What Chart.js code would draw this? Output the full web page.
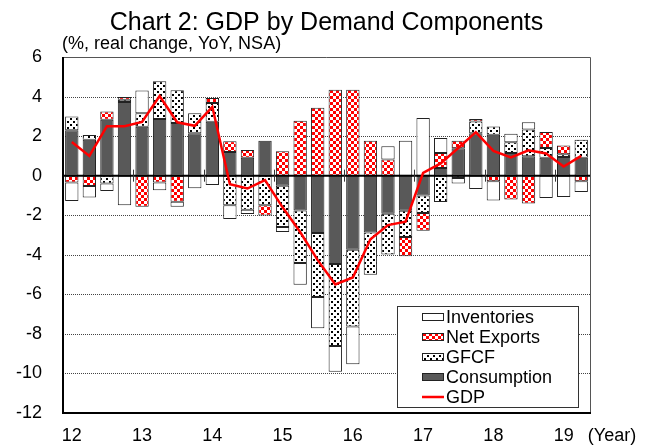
<!DOCTYPE html>
<html>
<head>
<meta charset="utf-8">
<script src="https://cdn.jsdelivr.net/npm/chart.js@4.4.1/dist/chart.umd.min.js"></script>
<style>
  html, body { margin: 0; padding: 0; background: #fff; }
  #wrap { width: 649px; height: 445px; }
</style>
</head>
<body>
<div id="wrap"><canvas id="gdpChart" width="649" height="445"></canvas></div>
<script>
// Quarterly contributions, % real change YoY (NSA)
const quarters = ['12Q1', '12Q2', '12Q3', '12Q4', '13Q1', '13Q2', '13Q3', '13Q4',
                  '14Q1', '14Q2', '14Q3', '14Q4', '15Q1', '15Q2', '15Q3', '15Q4',
                  '16Q1', '16Q2', '16Q3', '16Q4', '17Q1', '17Q2', '17Q3', '17Q4',
                  '18Q1', '18Q2', '18Q3', '18Q4', '19Q1', '19Q2'];
const yearLabels = ['12', '13', '14', '15', '16', '17', '18', '19'];

const consumption = [2.30, 1.81, 2.83, 3.72, 2.47, 2.86, 2.66, 2.15, 2.73, 1.20, 0.90, 1.76,
                     -0.51, -1.76, -2.90, -4.47, -3.75, -2.87, -1.93, -1.77, -1.00, 0.39, 1.39, 2.15,
                     2.07, 1.15, 0.98, 0.90, 0.95, 0.90];
const gfcf = [0.69, 0.24, -0.39, 0.12, 0.68, 1.91, 1.66, 1.00, 0.94, -1.50, -1.72, -1.50,
              -2.09, -2.66, -3.24, -4.14, -3.88, -2.14, -2.06, -1.33, -0.89, -1.33, -0.12, 0.59,
              0.42, 0.54, 1.35, 0.50, 0.13, 0.92];
const netExports = [-0.34, -0.52, 0.42, 0.14, -1.57, -0.34, -1.32, 0.00, 0.26, 0.54, 0.40, -0.51,
                    1.23, 2.78, 3.43, 4.35, 4.35, 1.77, 0.82, -0.98, -0.89, 0.76, 0.37, 0.12,
                    -0.28, -1.21, -1.41, 0.81, 0.45, -0.28];
const inventories = [-0.94, -0.58, -0.39, -1.49, 1.15, -0.40, -0.25, -0.64, -0.47, -0.69, -0.22, 0.00,
                     -0.25, -1.10, -1.57, -1.30, -1.91, 0.00, 0.67, 1.76, 2.92, 0.76, -0.28, -0.68,
                     -0.98, 0.43, 0.37, -1.13, -1.08, -0.55];
const gdp = [1.70, 1.00, 2.50, 2.50, 2.72, 4.03, 2.70, 2.52, 3.48, -0.43, -0.65, -0.22,
             -1.60, -2.85, -4.27, -5.50, -5.15, -3.22, -2.50, -2.33, 0.14, 0.62, 1.40, 2.20,
             1.25, 0.92, 1.28, 1.12, 0.46, 1.00];

const FONT = 'Arial, "Liberation Sans", sans-serif';
const GREY = '#595959';

function makePattern(size, draw) {
    const c = document.createElement('canvas');
    c.width = size;
    c.height = size;
    const g = c.getContext('2d');
    draw(g);
    return g.createPattern(c, 'repeat');
}

const checker = makePattern(6, (g) => {
    g.fillStyle = '#fff';
    g.fillRect(0, 0, 6, 6);
    g.fillStyle = '#ff0000';
    g.fillRect(0, 0, 3, 3);
    g.fillRect(3, 3, 3, 3);
});

const dots = makePattern(6, (g) => {
    g.fillStyle = '#fff';
    g.fillRect(0, 0, 6, 6);
    g.fillStyle = '#000';
    g.fillRect(1, 1, 2, 2);
    g.fillRect(4, 4, 2, 2);
});

const legendItems = [
    { text: 'Inventories', fill: '#fff' },
    { text: 'Net Exports', fill: checker },
    { text: 'GFCF', fill: dots },
    { text: 'Consumption', fill: GREY },
    { text: 'GDP', line: '#ff0000' }
];

const decor = {
    id: 'decor',
    beforeDatasetsDraw(chart) {
        const { ctx, chartArea: a, scales: { y } } = chart;
        ctx.save();
        ctx.strokeStyle = '#444';
        ctx.lineWidth = 1;
        ctx.setLineDash([1, 1]);
        y.ticks.forEach((t) => {
            if (t.value === 0 || t.value === y.min || t.value === y.max) return;
            const py = Math.round(y.getPixelForValue(t.value)) + 0.5;
            ctx.beginPath();
            ctx.moveTo(a.left, py);
            ctx.lineTo(a.right, py);
            ctx.stroke();
        });
        ctx.restore();
    },
    beforeDatasetDraw(chart, args) {
        if (args.index !== 4) return;
        const { ctx, chartArea: a, scales: { x, y } } = chart;
        const y0 = y.getPixelForValue(0);
        ctx.save();
        ctx.strokeStyle = '#000';
        ctx.lineWidth = 2;
        ctx.beginPath();
        ctx.moveTo(a.left, y0);
        ctx.lineTo(a.right, y0);
        ctx.stroke();
        ctx.lineWidth = 1;
        ctx.strokeStyle = '#333';
        for (let i = 4; i < quarters.length; i += 4) {
            const px = Math.round((x.getPixelForValue(i - 1) + x.getPixelForValue(i)) / 2) + 0.5;
            ctx.beginPath();
            ctx.moveTo(px, y0 - 6);
            ctx.lineTo(px, y0 + 6);
            ctx.stroke();
        }
        ctx.restore();
    },
    afterDraw(chart) {
        const { ctx, chartArea: a } = chart;
        ctx.save();

        // plot frame
        ctx.strokeStyle = '#555';
        ctx.lineWidth = 1;
        ctx.beginPath();
        ctx.moveTo(a.left, a.top + 0.5);
        ctx.lineTo(a.right + 0.5, a.top + 0.5);
        ctx.lineTo(a.right + 0.5, a.bottom);
        ctx.stroke();
        ctx.strokeStyle = '#000';
        ctx.lineWidth = 2;
        ctx.beginPath();
        ctx.moveTo(a.left, a.top);
        ctx.lineTo(a.left, a.bottom);
        ctx.lineTo(a.right + 1, a.bottom);
        ctx.stroke();

        // titles
        ctx.fillStyle = '#000';
        ctx.textBaseline = 'alphabetic';
        ctx.textAlign = 'center';
        ctx.font = '25px ' + FONT;
        ctx.fillText('Chart 2: GDP by Demand Components', 326.5, 30);
        ctx.textAlign = 'left';
        ctx.font = '18px ' + FONT;
        ctx.fillText('(%, real change, YoY, NSA)', 62, 49);
        ctx.textAlign = 'center';
        ctx.textBaseline = 'middle';
        ctx.fillText('(Year)', 612, 436);

        // legend box
        ctx.fillStyle = '#fff';
        ctx.fillRect(397.5, 306.5, 181, 101);
        ctx.strokeStyle = '#333';
        ctx.lineWidth = 1;
        ctx.strokeRect(397.5, 306.5, 181, 101);
        ctx.textAlign = 'left';
        ctx.font = '18px ' + FONT;
        legendItems.forEach((item, i) => {
            const cy = 317 + i * 20;
            if (item.line) {
                ctx.strokeStyle = item.line;
                ctx.lineWidth = 2.5;
                ctx.beginPath();
                ctx.moveTo(422, cy);
                ctx.lineTo(444, cy);
                ctx.stroke();
            } else {
                ctx.fillStyle = item.fill;
                ctx.fillRect(422.5, cy - 3.5, 21, 7);
                ctx.strokeStyle = '#222';
                ctx.lineWidth = 1;
                ctx.strokeRect(422.5, cy - 3.5, 21, 7);
            }
            ctx.fillStyle = '#000';
            ctx.fillText(item.text, 446, cy + 1);
        });
        ctx.restore();
    }
};

function barSet(label, data, fill) {
    return {
        type: 'bar',
        label: label,
        data: data,
        backgroundColor: fill,
        borderColor: '#222',
        borderWidth: 1,
        borderSkipped: false,
        stack: 'bars',
        order: 1,
        barPercentage: 0.76,
        categoryPercentage: 1.0
    };
}

new Chart(document.getElementById('gdpChart'), {
    data: {
        labels: quarters,
        datasets: [
            barSet('Consumption', consumption, GREY),
            barSet('GFCF', gfcf, dots),
            barSet('Net Exports', netExports, checker),
            barSet('Inventories', inventories, '#fff'),
            {
                type: 'line',
                label: 'GDP',
                data: gdp,
                borderColor: '#ff0000',
                borderWidth: 2.5,
                pointRadius: 0,
                tension: 0,
                fill: false,
                stack: 'gdp',
                order: 0
            }
        ]
    },
    options: {
        responsive: false,
        animation: false,
        layout: { padding: { left: 0, right: 59, top: 57, bottom: 0 } },
        plugins: {
            legend: { display: false },
            title: { display: false },
            tooltip: { enabled: false }
        },
        scales: {
            x: {
                stacked: true,
                grid: { display: false, drawTicks: false },
                border: { display: false },
                ticks: {
                    autoSkip: false,
                    maxRotation: 0,
                    padding: 12,
                    color: '#000',
                    font: { family: FONT, size: 18 },
                    callback: (value, i) => (i % 4 === 0 ? yearLabels[i / 4] : '')
                },
                afterFit: (scale) => { scale.height = 32; }
            },
            y: {
                stacked: true,
                min: -12,
                max: 6,
                grid: { display: false, drawTicks: false },
                border: { display: false },
                ticks: {
                    stepSize: 2,
                    padding: 21,
                    color: '#000',
                    font: { family: FONT, size: 18 }
                },
                afterFit: (scale) => { scale.width = 63; }
            }
        }
    },
    plugins: [decor]
});
</script>
</body>
</html>
